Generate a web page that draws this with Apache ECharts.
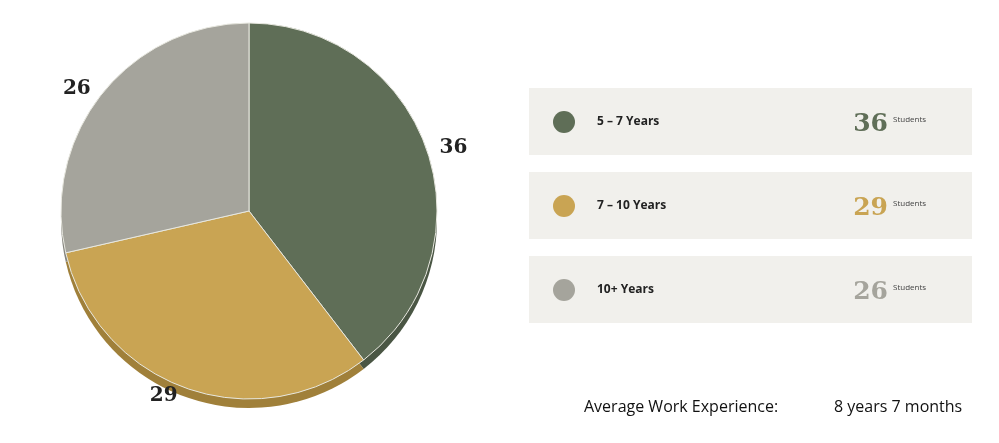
<!DOCTYPE html>
<html><head><meta charset="utf-8">
<script src="https://cdn.jsdelivr.net/npm/echarts@6/dist/echarts.min.js"></script>
<style>html,body{margin:0;padding:0;background:#fff}#c{width:999px;height:443px}</style>
</head><body><div id="c"></div>
<script>
const categories = ['5 – 7 Years', '7 – 10 Years', '10+ Years'];
const values = [36, 29, 26];
const colors = ['#5f6e57', '#c9a453', '#a5a49c'];
const shadowColors = ['#4a5644', '#a0803a', '#85847d'];
const unit = 'Students';
const avgLabel = 'Average Work Experience:';
const avgValue = '8 years 7 months';

const chart = echarts.init(document.getElementById('c'));
const graphic = [];
categories.forEach((cat, i) => {
  const y = 88 + i * 84;
  graphic.push({type:'rect', shape:{x:529,y:y,width:443,height:67}, style:{fill:'#f1f0ec'}, silent:true});
  graphic.push({type:'circle', shape:{cx:564,cy:y+34,r:11}, style:{fill:colors[i]}});
  graphic.push({type:'text', x:597, y:y+34, style:{text:cat, font:'bold 12px "Open Sans", sans-serif', fill:'#222', verticalAlign:'middle'}});
  graphic.push({type:'text', x:888, y:y+36, style:{text:String(values[i]), font:'bold 25px "DejaVu Serif", serif', fill:colors[i], verticalAlign:'middle', align:'right'}});
  graphic.push({type:'text', x:893, y:y+32, style:{text:unit, font:'8px "Open Sans", sans-serif', fill:'#444', verticalAlign:'middle'}});
});
graphic.push({type:'text', x:584, y:407, style:{text:avgLabel, font:'16px "Open Sans", sans-serif', fill:'#111', verticalAlign:'middle'}});
graphic.push({type:'text', x:834, y:407, style:{text:avgValue, font:'16px "Open Sans", sans-serif', fill:'#111', verticalAlign:'middle'}});

chart.setOption({
  animation:false,
  graphic: graphic,
  series: [
    {type:'pie', silent:true, center:[249,220], radius:188, startAngle:90, clockwise:true,
     label:{show:false}, labelLine:{show:false},
     data: values.map((v,i)=>({value:v, itemStyle:{color:shadowColors[i]}}))},
    {type:'pie', center:[249,211], radius:188, startAngle:90, clockwise:true,
     itemStyle:{borderColor:'#e8e8e0', borderWidth:1},
     label:{show:true, position:'outside', formatter:'{c}', font:'bold 20px "DejaVu Serif", serif', fontFamily:'DejaVu Serif', fontWeight:'bold', fontSize:20, color:'#222'},
     labelLine:{show:false, length:8, length2:0},
     data: values.map((v,i)=>({name:categories[i], value:v, itemStyle:{color:colors[i]}}))}
  ]
});
</script></body></html>
